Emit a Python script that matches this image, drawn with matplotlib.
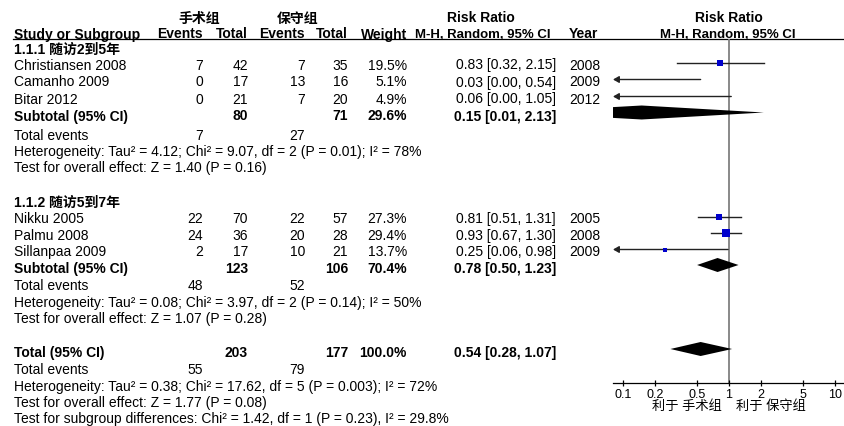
import matplotlib
matplotlib.use('Agg')
import matplotlib.pyplot as plt
import numpy as np

plt.rcParams['font.family'] = ['Liberation Sans', 'Noto Sans CJK SC']
plt.rcParams['font.size'] = 10

# ---- data ----
arm_names = ['手术组', '保守组']
favours = ['利于 手术组', '利于 保守组']

group_titles = ['1.1.1 随访2到5年', '1.1.2 随访5到7年']

studies1 = ['Christiansen 2008', 'Camanho 2009', 'Bitar 2012']
ev_s1 = [7, 0, 0]
tot_s1 = [42, 17, 21]
ev_c1 = [7, 13, 7]
tot_c1 = [35, 16, 20]
weight1 = [19.5, 5.1, 4.9]
rr1 = [0.83, 0.03, 0.06]
lo1 = [0.32, 0.00, 0.00]
hi1 = [2.15, 0.54, 1.05]
year1 = [2008, 2009, 2012]

studies2 = ['Nikku 2005', 'Palmu 2008', 'Sillanpaa 2009']
ev_s2 = [22, 24, 2]
tot_s2 = [70, 36, 17]
ev_c2 = [22, 20, 10]
tot_c2 = [57, 28, 21]
weight2 = [27.3, 29.4, 13.7]
rr2 = [0.81, 0.93, 0.25]
lo2 = [0.51, 0.67, 0.06]
hi2 = [1.31, 1.30, 0.98]
year2 = [2005, 2008, 2009]

# pooled: subgroup 1, subgroup 2, overall
pooled_weight = [29.6, 70.4, 100.0]
pooled_rr = [0.15, 0.78, 0.54]
pooled_lo = [0.01, 0.50, 0.28]
pooled_hi = [2.13, 1.23, 1.07]

het_text = ['Heterogeneity: Tau² = 4.12; Chi² = 9.07, df = 2 (P = 0.01); I² = 78%',
            'Heterogeneity: Tau² = 0.08; Chi² = 3.97, df = 2 (P = 0.14); I² = 50%',
            'Heterogeneity: Tau² = 0.38; Chi² = 17.62, df = 5 (P = 0.003); I² = 72%']
effect_text = ['Test for overall effect: Z = 1.40 (P = 0.16)',
               'Test for overall effect: Z = 1.07 (P = 0.28)',
               'Test for overall effect: Z = 1.77 (P = 0.08)']
subgroup_text = 'Test for subgroup differences: Chi² = 1.42, df = 1 (P = 0.23), I² = 29.8%'

xticks = [0.1, 0.2, 0.5, 1, 2, 5, 10]
xtick_labels = ['0.1', '0.2', '0.5', '1', '2', '5', '10']

# ---- layout (pixels from top-left) ----
W, H = 845, 427
X_NAME, X_EVS, X_TOTS, X_EVC, X_TOTC, X_W, X_CI, X_YEAR = 14, 203, 248, 305, 348, 407, 556, 569
PLOT_L, PLOT_R, PLOT_T, PLOT_B = 613, 845, 40, 384
PX_ONE, PX_DEC = 729, 106

groups = [
    dict(title=group_titles[0], names=studies1, evs=ev_s1, tots=tot_s1, evc=ev_c1, totc=tot_c1,
         w=weight1, rr=rr1, lo=lo1, hi=hi1, yr=year1,
         y_title=48, y_rows=[64, 81, 98], y_sub=115, y_ev=135, y_het=151, y_test=167),
    dict(title=group_titles[1], names=studies2, evs=ev_s2, tots=tot_s2, evc=ev_c2, totc=tot_c2,
         w=weight2, rr=rr2, lo=lo2, hi=hi2, yr=year2,
         y_title=201, y_rows=[218, 234.5, 251], y_sub=267.5, y_ev=285, y_het=302, y_test=318),
]
Y_TOT, Y_TOT_EV, Y_TOT_HET, Y_TOT_TEST, Y_SUBDIFF = 352, 369, 386, 402, 418

fig = plt.figure(figsize=(W / 100, H / 100), dpi=100)
tx = fig.add_axes([0, 0, 1, 1])
tx.set_xlim(0, W)
tx.set_ylim(H, 0)
tx.axis('off')

fx = fig.add_axes([PLOT_L / W, (H - PLOT_B) / H, (PLOT_R - PLOT_L) / W, (PLOT_B - PLOT_T) / H])
fx.patch.set_alpha(0)
fx.set_xscale('log')
xmin = 10 ** ((PLOT_L - PX_ONE) / PX_DEC)
xmax = 10 ** ((PLOT_R - PX_ONE) / PX_DEC)
fx.set_xlim(xmin, xmax)
fx.set_ylim(PLOT_B, PLOT_T)
for s in ['top', 'left', 'right']:
    fx.spines[s].set_visible(False)
fx.spines['bottom'].set_linewidth(0.9)
fx.set_yticks([])
fx.set_xticks(xticks)
fx.set_xticklabels(xtick_labels)
fx.minorticks_off()
fx.tick_params(axis='x', direction='inout', length=4.5, width=0.9, pad=1.5, labelsize=9)
fx.axvline(1, color='#808080', lw=1.3, zorder=1)


def t(x, y, s, ha='left', bold=False, size=10):
    # y is the visual middle of the row, text sits on a baseline a bit lower
    tx.text(x, y + 5.5, s, ha=ha, va='baseline', fontsize=size,
            fontweight='bold' if bold else 'normal')


def ci(v):
    return f'{v[0]:.2f} [{v[1]:.2f}, {v[2]:.2f}]'


def diamond(est, lo, hi, y):
    fx.fill([lo, est, hi, est], [y, y - 7, y, y + 7], color='black', lw=0, zorder=3)


# headers
t(199, 17, arm_names[0], 'center', True)
t(298, 17, arm_names[1], 'center', True)
t(481, 17, 'Risk Ratio', 'center', True)
t(729, 17, 'Risk Ratio', 'center', True)
t(X_NAME, 33, 'Study or Subgroup', bold=True)
t(X_EVS, 33, 'Events', 'right', True)
t(X_TOTS, 33, 'Total', 'right', True)
t(X_EVC, 33, 'Events', 'right', True)
t(X_TOTC, 33, 'Total', 'right', True)
t(X_W, 33, 'Weight', 'right', True)
t(483, 33, 'M-H, Random, 95% CI', 'center', True, 9.5)
t(X_YEAR, 33, 'Year', bold=True)
t(728, 33, 'M-H, Random, 95% CI', 'center', True, 9.5)
tx.plot([13, W], [40, 40], color='black', lw=0.9)

for gi, g in enumerate(groups):
    t(X_NAME, g['y_title'], g['title'], bold=True)
    for i, y in enumerate(g['y_rows']):
        t(X_NAME, y, g['names'][i])
        t(X_EVS, y, str(g['evs'][i]), 'right')
        t(X_TOTS, y, str(g['tots'][i]), 'right')
        t(X_EVC, y, str(g['evc'][i]), 'right')
        t(X_TOTC, y, str(g['totc'][i]), 'right')
        t(X_W, y, f"{g['w'][i]:.1f}%", 'right')
        t(X_CI, y, ci((g['rr'][i], g['lo'][i], g['hi'][i])), 'right')
        t(X_YEAR, y, str(g['yr'][i]))
        ym = y - 0.5
        lo = g['lo'][i]
        if lo < xmin:
            fx.annotate('', xy=(xmin, ym), xytext=(g['hi'][i], ym),
                        arrowprops=dict(arrowstyle='-|>,head_length=0.35,head_width=0.2',
                                        color='#222222', lw=1.0, shrinkA=0, shrinkB=0))
        else:
            fx.plot([lo, g['hi'][i]], [ym, ym], color='#222222', lw=1.0, zorder=2)
        side = 1.3 * np.sqrt(g['w'][i]) * 0.72
        fx.scatter([g['rr'][i]], [ym], marker='s', s=side ** 2, color='#0000CC', lw=0, zorder=4)
    ys = g['y_sub']
    t(X_NAME, ys, 'Subtotal (95% CI)', bold=True)
    t(X_TOTS, ys, str(sum(g['tots'])), 'right', True)
    t(X_TOTC, ys, str(sum(g['totc'])), 'right', True)
    t(X_W, ys, f'{pooled_weight[gi]:.1f}%', 'right', True)
    t(X_CI, ys, ci((pooled_rr[gi], pooled_lo[gi], pooled_hi[gi])), 'right', True)
    diamond(pooled_rr[gi], pooled_lo[gi], pooled_hi[gi], ys - 1.5)
    t(X_NAME, g['y_ev'], 'Total events')
    t(X_EVS, g['y_ev'], str(sum(g['evs'])), 'right')
    t(X_EVC, g['y_ev'], str(sum(g['evc'])), 'right')
    t(X_NAME, g['y_het'], het_text[gi])
    t(X_NAME, g['y_test'], effect_text[gi])

# overall
t(X_NAME, Y_TOT, 'Total (95% CI)', bold=True)
t(X_TOTS, Y_TOT, str(sum(tot_s1 + tot_s2)), 'right', True)
t(X_TOTC, Y_TOT, str(sum(tot_c1 + tot_c2)), 'right', True)
t(X_W, Y_TOT, f'{pooled_weight[2]:.1f}%', 'right', True)
t(X_CI, Y_TOT, ci((pooled_rr[2], pooled_lo[2], pooled_hi[2])), 'right', True)
diamond(pooled_rr[2], pooled_lo[2], pooled_hi[2], Y_TOT - 2)
t(X_NAME, Y_TOT_EV, 'Total events')
t(X_EVS, Y_TOT_EV, str(sum(ev_s1 + ev_s2)), 'right')
t(X_EVC, Y_TOT_EV, str(sum(ev_c1 + ev_c2)), 'right')
t(X_NAME, Y_TOT_HET, het_text[2])
t(X_NAME, Y_TOT_TEST, effect_text[2])
t(X_NAME, Y_SUBDIFF, subgroup_text)

tx.text(687, 406.5, favours[0], ha='center', va='center', fontsize=9.5)
tx.text(771, 406.5, favours[1], ha='center', va='center', fontsize=9.5)

fig.savefig('out.png', dpi=100)
